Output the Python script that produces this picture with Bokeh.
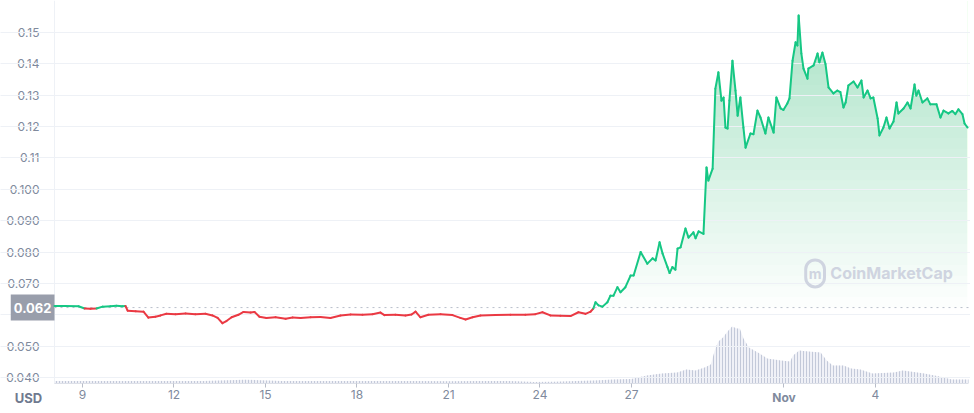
import numpy as np
from bokeh.plotting import figure
from bokeh.models import Range1d, FixedTicker, Label, LinearAxis
from bokeh.embed import file_html
from bokeh.resources import INLINE

# ---- data (time in "day of October"; Nov 1 = 32) ----
days = [8.08, 8.44, 8.87, 9.07, 9.26, 9.46, 9.66, 9.92, 10.11, 10.31, 10.41, 10.48, 10.74, 11.00,
        11.16, 11.39, 11.56, 11.75, 12.05, 12.38, 12.70, 13.03, 13.26, 13.43, 13.59, 13.72, 13.89,
        14.11, 14.28, 14.51, 14.64, 14.80, 15.03, 15.33, 15.66, 15.89, 16.15, 16.48, 16.80, 17.13,
        17.46, 17.79, 18.18, 18.51, 18.77, 18.90, 19.26, 19.59, 19.79, 19.92, 20.08, 20.34, 20.74,
        21.13, 21.39, 21.56, 21.79, 22.05, 22.54, 23.03, 23.52, 23.85, 24.08, 24.34, 24.67, 25.00,
        25.26, 25.49, 25.66, 25.75, 25.82, 25.92, 26.05, 26.21, 26.31, 26.41, 26.54, 26.64, 26.80,
        26.97, 27.07, 27.30, 27.52, 27.69, 27.79, 27.92, 28.02, 28.18, 28.25, 28.34, 28.44, 28.51,
        28.61, 28.77, 28.87, 29.03, 29.10, 29.20, 29.36, 29.46, 29.52, 29.66, 29.75, 29.85, 29.95,
        30.02, 30.08, 30.15, 30.21, 30.31, 30.41, 30.48, 30.57, 30.67, 30.74, 30.90, 31.00, 31.13,
        31.23, 31.39, 31.49, 31.66, 31.75, 31.89, 31.98, 32.11, 32.18, 32.28, 32.38, 32.44, 32.48,
        32.57, 32.64, 32.77, 32.80, 32.97, 33.10, 33.16, 33.26, 33.36, 33.46, 33.62, 33.75, 33.85,
        33.95, 34.02, 34.11, 34.28, 34.41, 34.54, 34.61, 34.74, 34.84, 34.93, 35.07, 35.13, 35.26,
        35.36, 35.46, 35.59, 35.69, 35.75, 35.92, 36.05, 36.15, 36.28, 36.34, 36.41, 36.54, 36.70,
        36.80, 37.00, 37.13, 37.23, 37.39, 37.52, 37.62, 37.72, 37.85, 37.92, 38.02]
price = [0.0628, 0.0628, 0.0627, 0.0620, 0.0619, 0.0620, 0.0626, 0.0627, 0.0629, 0.0627, 0.0628,
         0.0613, 0.0611, 0.0610, 0.0591, 0.0594, 0.0598, 0.0603, 0.0602, 0.0604, 0.0602, 0.0603,
         0.0598, 0.0590, 0.0573, 0.0580, 0.0592, 0.0600, 0.0609, 0.0607, 0.0609, 0.0594, 0.0590,
         0.0592, 0.0587, 0.0591, 0.0590, 0.0592, 0.0593, 0.0590, 0.0598, 0.0601, 0.0600, 0.0602,
         0.0607, 0.0599, 0.0600, 0.0598, 0.0601, 0.0610, 0.0592, 0.0600, 0.0602, 0.0599, 0.0590,
         0.0585, 0.0592, 0.0598, 0.0599, 0.0600, 0.0600, 0.0602, 0.0608, 0.0598, 0.0597, 0.0596,
         0.0608, 0.0603, 0.0610, 0.0620, 0.0640, 0.0630, 0.0626, 0.0640, 0.0661, 0.0661, 0.0688,
         0.0672, 0.0688, 0.0725, 0.0725, 0.0800, 0.0763, 0.0780, 0.0773, 0.0831, 0.0795, 0.0752,
         0.0733, 0.0752, 0.0744, 0.0811, 0.0815, 0.0875, 0.0846, 0.0863, 0.0844, 0.0866, 0.0858,
         0.1070, 0.1028, 0.1066, 0.1321, 0.1373, 0.1283, 0.1293, 0.1197, 0.1194, 0.1283, 0.1410,
         0.1315, 0.1235, 0.1293, 0.1197, 0.1133, 0.1178, 0.1176, 0.1251, 0.1229, 0.1178, 0.1229,
         0.1181, 0.1293, 0.1258, 0.1253, 0.1274, 0.1290, 0.1410, 0.1469, 0.1459, 0.1554, 0.1433,
         0.1385, 0.1353, 0.1385, 0.1395, 0.1433, 0.1405, 0.1436, 0.1400, 0.1325, 0.1306, 0.1315,
         0.1310, 0.1261, 0.1277, 0.1331, 0.1344, 0.1325, 0.1347, 0.1293, 0.1315, 0.1290, 0.1293,
         0.1226, 0.1172, 0.1197, 0.1229, 0.1194, 0.1216, 0.1277, 0.1242, 0.1258, 0.1277, 0.1258,
         0.1334, 0.1299, 0.1315, 0.1277, 0.1290, 0.1271, 0.1271, 0.1229, 0.1251, 0.1242, 0.1250,
         0.1240, 0.1255, 0.1240, 0.1210, 0.1197]
open_price = 0.0623

vol_days = [8.08, 9.0, 10.0, 11.0, 12.0, 13.0, 13.8, 14.3, 14.8, 15.5, 17.0, 18.5, 20.0, 21.0, 22.0,
            23.0, 23.8, 24.5, 25.2, 25.8, 26.4, 27.0, 27.5, 28.0, 28.5, 28.8, 29.1, 29.4, 29.6,
            29.75, 29.85, 30.0, 30.15, 30.3, 30.45, 30.55, 30.67, 30.85, 31.2, 31.45, 31.9, 32.2,
            32.3, 32.5, 32.8, 33.2, 33.4, 33.6, 33.95, 34.2, 34.5, 34.9, 35.6, 35.9, 36.6, 37.1,
            37.5, 38.05]
volume = [2.5, 2.5, 2.6, 2.4, 2.6, 2.5, 3.2, 3.8, 3.3, 2.6, 2.5, 2.6, 2.5, 2.2, 2.6,
          2.5, 1.5, 1.8, 2.5, 3.0, 4.0, 4.5, 8, 10, 11, 14, 13, 16, 19,
          35, 42, 46, 52, 57, 55, 55, 45, 36, 30, 25, 23, 22,
          28, 33, 32, 31, 23, 18, 18, 15, 14, 10, 11, 13, 10, 7,
          4, 4]

y_ticks = [0.04, 0.05, 0.06, 0.07, 0.08, 0.09, 0.10, 0.11, 0.12, 0.13, 0.14, 0.15]
y_tick_labels = ["0.040", "0.050", "", "0.070", "0.080", "0.090", "0.100",
                 "0.11", "0.12", "0.13", "0.14", "0.15"]
x_ticks = [9, 12, 15, 18, 21, 24, 27, 32, 35]
x_tick_labels = ["9", "12", "15", "18", "21", "24", "27", "", "4"]

GREEN = "#16c784"
FILL_GREEN = "#18c97c"
RED = "#ea3943"
GRAY = "#808a9d"
FONT = "Inter"

# visible ranges (frame covers the whole canvas; axes sit at fixed locations inside it)
X_START, X_END = 6.3115, 38.115
Y_BOTTOM, Y_TOP = 0.029477, 0.160217
PLOT_LEFT, PLOT_RIGHT = 8.082, 38.05      # data-area bounds (days)
BASE = 0.038087                           # price level of the time axis

p = figure(width=970, height=410, output_backend="svg", toolbar_location=None,
           x_range=Range1d(X_START, X_END), y_range=Range1d(Y_BOTTOM, Y_TOP),
           x_axis_location=None, y_axis_location=None,
           min_border_left=0, min_border_right=0, min_border_top=0, min_border_bottom=0)
p.outline_line_color = None
p.background_fill_color = "white"
p.border_fill_color = "white"
p.extra_y_ranges = {"vol": Range1d(-27, 383)}

# gradient fill: stacked translucent layers, then white mask above price
levels = np.linspace(open_price, Y_TOP, 30)
for lv in levels:
    p.varea(x=[days[0], days[-1]], y1=[lv, lv], y2=[Y_TOP, Y_TOP],
            fill_color=FILL_GREEN, fill_alpha=0.0105)
p.varea(x=days, y1=price, y2=[Y_TOP] * len(days), fill_color="white", fill_alpha=1.0)

# volume
p.varea(x=vol_days, y1=[0] * len(vol_days), y2=volume, y_range_name="vol",
        fill_color="#eef0f6", fill_alpha=0.9,
        hatch_pattern="vertical_line", hatch_color="#c3c9d9", hatch_scale=3, hatch_weight=1)

# grid
p.xgrid.grid_line_color = None
p.ygrid.ticker = FixedTicker(ticks=y_ticks)
p.ygrid.grid_line_color = "#eef1f6"
p.ygrid.bounds = (PLOT_LEFT, PLOT_RIGHT)
p.ygrid.level = "annotation"

# reference (opening) price dotted line
p.segment(x0=[PLOT_LEFT], y0=[open_price], x1=[PLOT_RIGHT], y1=[open_price],
          line_color="#b9bfcb", line_dash="2 4", line_width=1)

# price line coloured by position relative to opening price
cols = [GREEN if (a + b) / 2 >= open_price else RED for a, b in zip(price[:-1], price[1:])]
p.segment(x0=days[:-1], y0=price[:-1], x1=days[1:], y1=price[1:], line_color=cols,
          line_width=2, line_cap="round", level="overlay")

# axes
yax = LinearAxis(fixed_location=PLOT_LEFT, bounds=(BASE, Y_TOP))
yax.ticker = FixedTicker(ticks=y_ticks)
yax.major_label_overrides = dict(zip(y_ticks, y_tick_labels))
yax.axis_line_color = "#eef1f6"
yax.major_tick_line_color = None
yax.minor_tick_line_color = None
yax.major_label_standoff = 9
yax.major_label_text_color = GRAY
yax.major_label_text_font = FONT
yax.major_label_text_font_size = "12px"
p.add_layout(yax, "left")

xax = LinearAxis(fixed_location=BASE, bounds=(PLOT_LEFT, PLOT_RIGHT))
xax.ticker = FixedTicker(ticks=x_ticks)
xax.major_label_overrides = dict(zip(x_ticks, x_tick_labels))
xax.axis_line_color = "#c3c8d3"
xax.axis_line_dash = "1 2"
xax.major_tick_line_color = "#b8bdc9"
xax.major_tick_in = 0
xax.major_tick_out = 4
xax.minor_tick_line_color = None
xax.major_label_standoff = 3
xax.major_label_text_color = GRAY
xax.major_label_text_font = FONT
xax.major_label_text_font_size = "12px"
p.add_layout(xax, "below")

# labels
p.add_layout(Label(x=PLOT_LEFT, y=open_price, text="0.062", text_align="right",
                   text_baseline="middle", x_offset=0, text_color="white", text_font=FONT,
                   text_font_size="13px", text_font_style="bold",
                   background_fill_color="#999eab", padding=(3, 8)))
p.add_layout(Label(x=7.23, y=0.03362, text="USD", text_align="center", text_baseline="middle",
                   text_color="#6f7a8f", text_font=FONT, text_font_size="13px",
                   text_font_style="bold"))
p.add_layout(Label(x=32, y=0.03362, text="Nov", text_align="center", text_baseline="middle",
                   text_color=GRAY, text_font=FONT, text_font_size="12px",
                   text_font_style="bold"))
p.add_layout(Label(x=33.52, y=0.0732, text="CoinMarketCap", text_align="left",
                   text_baseline="middle", text_color="#cfd4e0", text_font=FONT,
                   text_font_size="16px", text_font_style="bold"))
p.add_layout(Label(x=33.02, y=0.0732, text="m", text_align="center", text_baseline="middle",
                   text_color="#cfd4e0", text_font=FONT, text_font_size="14px",
                   text_font_style="bold", border_line_color="#cfd4e0", border_line_width=3,
                   border_radius=12, padding=(3, 5)))

open("out.html", "w").write(file_html(p, INLINE))
